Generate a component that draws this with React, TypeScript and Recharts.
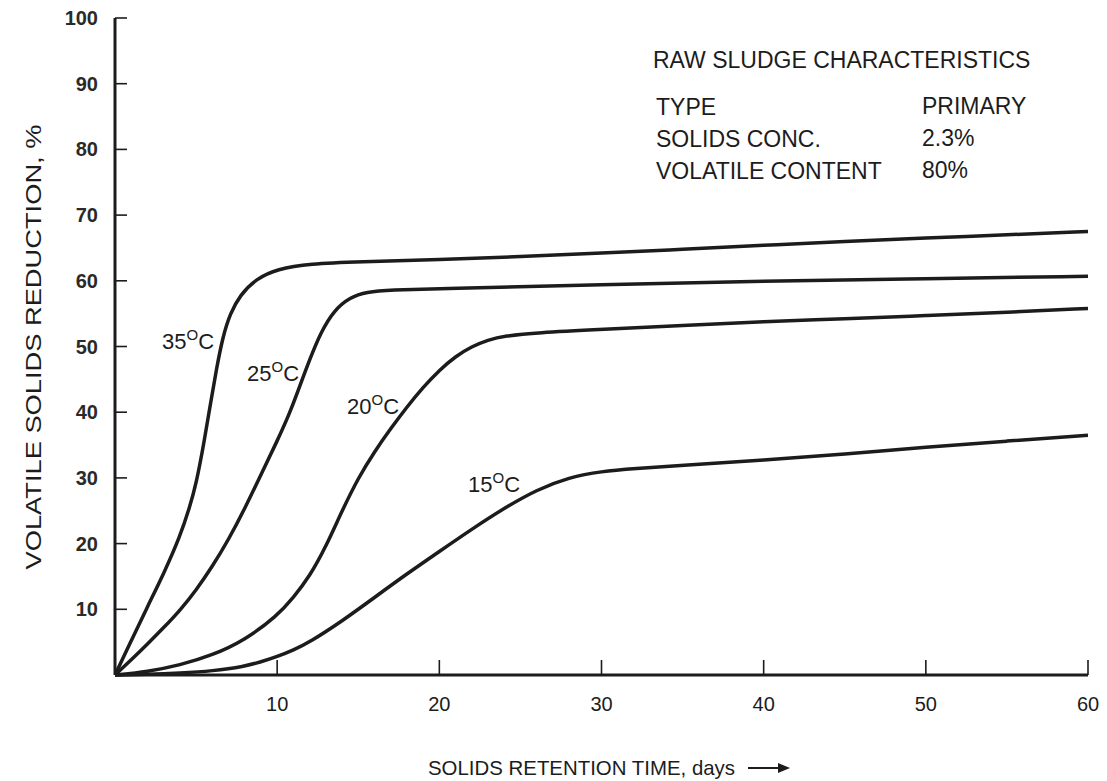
import { Line, LineChart, XAxis, YAxis } from "recharts";

const INK = "#1c1c1c";
const FONT = "'Liberation Sans', Arial, Helvetica, sans-serif";

// curves: retention time (days) vs volatile solids reduction (%)
const days35 = [0, 1, 2, 3, 4, 4.6, 5, 5.5, 5.9, 6.25, 6.65, 7.1, 7.7, 8.7, 10, 12, 15, 20, 25, 30, 35, 40, 45, 50, 55, 60];
const vsr35 = [0, 5.2, 10.4, 15.4, 21, 25.5, 29, 35.5, 41.5, 46.5, 51.5, 55, 57.8, 60.3, 61.8, 62.6, 62.9, 63.2, 63.7, 64.2, 64.8, 65.4, 66, 66.5, 67, 67.5];

const days25 = [0, 1, 2, 3, 4, 5, 6, 7, 8, 9, 10, 10.8, 11.4, 12, 12.7, 13.5, 14.5, 15.5, 17, 20, 30, 40, 50, 60];
const vsr25 = [0, 2.3, 4.7, 7.2, 9.8, 12.9, 16.5, 20.6, 25.3, 30.5, 35.6, 40, 44, 48, 52.2, 55.5, 57.5, 58.3, 58.6, 58.8, 59.4, 60, 60.3, 60.7];

const days20 = [0, 2, 4, 6, 8, 10, 11, 12, 13, 14, 15, 16, 17, 18, 19, 20, 21, 22, 23, 24, 26, 30, 35, 40, 45, 50, 55, 60];
const vsr20 = [0, 0.5, 1.5, 3, 5.3, 9, 11.8, 15, 19.5, 25, 30, 34, 37.5, 40.8, 43.8, 46.4, 48.5, 50, 51, 51.6, 52.1, 52.6, 53.2, 53.8, 54.2, 54.7, 55.2, 55.8];

const days15 = [0, 2, 4, 6, 8, 9, 10, 11, 12, 14, 16, 18, 20, 22, 24, 26, 28, 30, 32, 35, 40, 45, 50, 55, 60];
const vsr15 = [0, 0.1, 0.3, 0.6, 1.3, 2, 2.8, 3.8, 5, 8.2, 11.8, 15.4, 18.8, 22.2, 25.4, 28.2, 30.1, 31, 31.4, 31.9, 32.7, 33.6, 34.7, 35.6, 36.5];

const xTicks = [10, 20, 30, 40, 50, 60];
const yTicks = [10, 20, 30, 40, 50, 60, 70, 80, 90, 100];

const tempLabels = ["35", "25", "20", "15"];
const infoLabels = ["TYPE", "SOLIDS CONC.", "VOLATILE CONTENT"];
const infoValues = ["PRIMARY", "2.3%", "80%"];

const toPoints = (xs: number[], ys: number[]) => xs.map((x, i) => ({ x, y: ys[i] }));

const series = [
  toPoints(days35, vsr35),
  toPoints(days25, vsr25),
  toPoints(days20, vsr20),
  toPoints(days15, vsr15),
];

// label positions for the temperature tags (pixels)
const tagPos = [
  [162, 349],
  [247, 381],
  [347, 414],
  [468, 492],
];

const XTick = ({ x, y, payload }: any) => (
  <g>
    <line x1={x} x2={x} y1={y} y2={y - 15} stroke={INK} strokeWidth={1.6} />
    <text x={x} y={y + 36} textAnchor="middle" fontSize={20} fill={INK} fontFamily={FONT}>
      {payload.value}
    </text>
  </g>
);

const YTick = ({ x, y, payload }: any) => (
  <g>
    <line x1={x} x2={x + 12} y1={y} y2={y} stroke={INK} strokeWidth={1.6} />
    <text x={x - 17} y={y + 7} textAnchor="end" fontSize={20} fontWeight="bold" fill="#2a2a2a" fontFamily={FONT}>
      {payload.value}
    </text>
  </g>
);

export default function App() {
  return (
    <div style={{ position: "absolute", left: 0, top: 0, width: 1107, height: 781, background: "#fff" }}>
      <LineChart width={1107} height={781} margin={{ top: 18, right: 19, bottom: 0, left: 0 }}>
        <XAxis
          type="number"
          dataKey="x"
          domain={[0, 60]}
          ticks={xTicks}
          height={106}
          tickSize={0}
          tickMargin={0}
          tickLine={false}
          axisLine={{ stroke: INK, strokeWidth: 3 }}
          tick={<XTick />}
          allowDataOverflow
        />
        <YAxis
          type="number"
          dataKey="y"
          domain={[0, 100]}
          ticks={yTicks}
          width={115}
          tickSize={0}
          tickMargin={0}
          tickLine={false}
          axisLine={{ stroke: INK, strokeWidth: 3 }}
          tick={<YTick />}
          interval={0}
        />
        {series.map((d, i) => (
          <Line
            key={tempLabels[i]}
            data={d}
            dataKey="y"
            type="basis"
            stroke={INK}
            strokeWidth={3.5}
            dot={false}
            activeDot={false}
            isAnimationActive={false}
          />
        ))}
      </LineChart>
      <svg
        width={1107}
        height={781}
        style={{ position: "absolute", left: 0, top: 0, pointerEvents: "none" }}
        fontFamily={FONT}
        fill={INK}
      >
        <text x={41} y={347} transform="rotate(-90 41 347)" textAnchor="middle" fontSize={22} textLength={445} lengthAdjust="spacingAndGlyphs">
          VOLATILE SOLIDS REDUCTION, %
        </text>
        <text x={428} y={775} fontSize={21} textLength={307} lengthAdjust="spacingAndGlyphs">
          SOLIDS RETENTION TIME, days
        </text>
        <line x1={748} x2={780} y1={768} y2={768} stroke={INK} strokeWidth={2} />
        <polygon points="778,763 790,768 778,773" fill={INK} />

        <text x={653} y={68} fontSize={23}>RAW SLUDGE CHARACTERISTICS</text>
        {infoLabels.map((t, i) => (
          <g key={t}>
            <text x={656} y={115 + i * 32} fontSize={23}>{t}</text>
            <text x={922} y={114 + i * 32} fontSize={23}>{infoValues[i]}</text>
          </g>
        ))}

        {tempLabels.map((t, i) => (
          <text key={t} x={tagPos[i][0]} y={tagPos[i][1]} fontSize={22}>
            {t}
            <tspan fontSize={15} dy={-9}>O</tspan>
            <tspan dy={9}>C</tspan>
          </text>
        ))}
      </svg>
    </div>
  );
}
